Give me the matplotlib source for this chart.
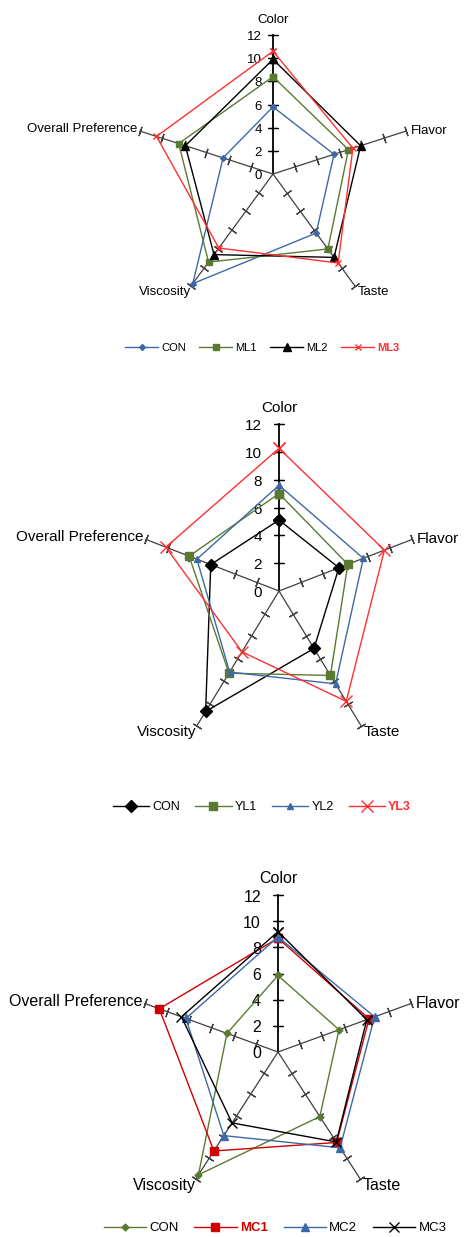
import matplotlib.pyplot as plt
import numpy as np

plt.rcParams['font.family'] = ['Liberation Sans', 'DejaVu Sans']

categories = ["Color", "Flavor", "Taste", "Viscosity", "Overall Preference"]
scale_ticks = [0, 2, 4, 6, 8, 10, 12]

# chart 1
ml_names = ["CON", "ML1", "ML2", "ML3"]
ml_con = [5.8, 5.5, 6.3, 11.7, 4.5]
ml_1 = [8.4, 6.8, 8.0, 9.4, 8.5]
ml_2 = [9.9, 7.9, 8.9, 8.6, 7.9]
ml_3 = [10.6, 7.2, 9.5, 7.9, 10.5]

# chart 2
yl_names = ["CON", "YL1", "YL2", "YL3"]
yl_con = [5.1, 5.4, 5.1, 10.7, 6.15]
yl_1 = [7.0, 6.2, 7.5, 7.3, 8.1]
yl_2 = [7.6, 7.6, 8.25, 7.2, 7.4]
yl_3 = [10.25, 9.5, 9.8, 5.4, 10.2]

# chart 3
mc_names = ["CON", "MC1", "MC2", "MC3"]
mc_con = [5.85, 5.5, 6.1, 11.6, 4.6]
mc_1 = [8.7, 8.2, 8.55, 9.35, 10.7]
mc_2 = [8.8, 8.7, 9.05, 7.9, 8.3]
mc_3 = [9.2, 8.0, 8.5, 6.7, 8.7]

BLUE = "#3d68a8"
GREEN = "#5a7a32"
BLACK = "#000000"
RED = "#ff3030"
DRED = "#d00000"

W, H = 466, 1237
fig = plt.figure(figsize=(W / 100, H / 100), dpi=100)

spoke_deg = [90, 18, -54, -126, 162]
PX = 0.72  # points per pixel
# label offsets in pixels, alignment
label_pos = [((0, 9), "center", "bottom"),
             ((5, 0), "left", "center"),
             ((2, -6), "left", "center"),
             ((0, -6), "right", "center"),
             ((-2, 2), "right", "center")]


def radar(cx, cy, rx, ry, series, names, colors, markers, msizes, bold_idx,
          bold_color, fs, tick_off, leg_xy, leg_fs, hlen):
    ax = fig.add_axes([(cx - rx) / W, 1 - (cy + ry) / H, 2 * rx / W, 2 * ry / H],
                      projection="polar")
    ax.set_aspect("auto")
    ax.set_ylim(0, 12)
    ax.set_axis_off()
    th = np.deg2rad(spoke_deg)

    # spokes with tick marks
    for i, a in enumerate(spoke_deg):
        lw = 1.3 if i == 0 else 0.9
        col = "black" if i == 0 else "#404040"
        scr = np.degrees(np.arctan2(ry * np.sin(th[i]), rx * np.cos(th[i])))
        ax.plot([th[i], th[i]], [0, 12], color=col, lw=lw, clip_on=False, zorder=1)
        ax.plot([th[i]] * 6, scale_ticks[1:], ls="none", marker=(2, 2, scr),
                ms=7, mew=0.9, color=col, clip_on=False, zorder=1)
        off, ha, va = label_pos[i]
        ax.annotate(categories[i], xy=(th[i], 12),
                    xytext=(off[0] * PX, off[1] * PX),
                    textcoords="offset points", ha=ha, va=va, fontsize=fs,
                    annotation_clip=False)

    for v in scale_ticks:
        ax.annotate(str(v), xy=(np.pi / 2, v), xytext=(-tick_off * PX, -2 * PX),
                    textcoords="offset points", ha="right", va="center",
                    fontsize=fs, annotation_clip=False)

    tt = np.append(th, th[0])
    handles = []
    for vals, name, c, m, s in zip(series, names, colors, markers, msizes):
        vv = np.append(vals, vals[0])
        h, = ax.plot(tt, vv, color=c, lw=1.0, marker=m, ms=s, mew=1.0,
                     label=name, clip_on=False, zorder=3)
        handles.append(h)

    leg = fig.legend(handles=handles, loc="center",
                     bbox_to_anchor=(leg_xy[0] / W, 1 - leg_xy[1] / H),
                     ncol=4, frameon=False, fontsize=leg_fs, handlelength=hlen,
                     handletextpad=0.25, columnspacing=1.2)
    t = leg.get_texts()[bold_idx]
    t.set_color(bold_color)
    t.set_fontweight("bold")


radar(273, 174, 140, 139, [ml_con, ml_1, ml_2, ml_3], ml_names,
      [BLUE, GREEN, BLACK, RED], ["D", "s", "^", "x"], [3, 4.5, 6, 5],
      3, RED, 9.5, 11, (262, 348), 8, 3.0)

radar(279, 591, 140, 167, [yl_con, yl_1, yl_2, yl_3], yl_names,
      [BLACK, GREEN, BLUE, RED], ["D", "s", "^", "x"], [6, 5.5, 5, 9],
      3, RED, 11, 17, (262, 807), 9, 2.9)

radar(278, 1052, 140, 157, [mc_con, mc_1, mc_2, mc_3], mc_names,
      [GREEN, DRED, BLUE, BLACK], ["D", "s", "^", "x"], [3.5, 6, 5.5, 7],
      1, DRED, 11.5, 17, (275, 1228), 9.5, 3.2)

fig.savefig("out.png", dpi=100)
